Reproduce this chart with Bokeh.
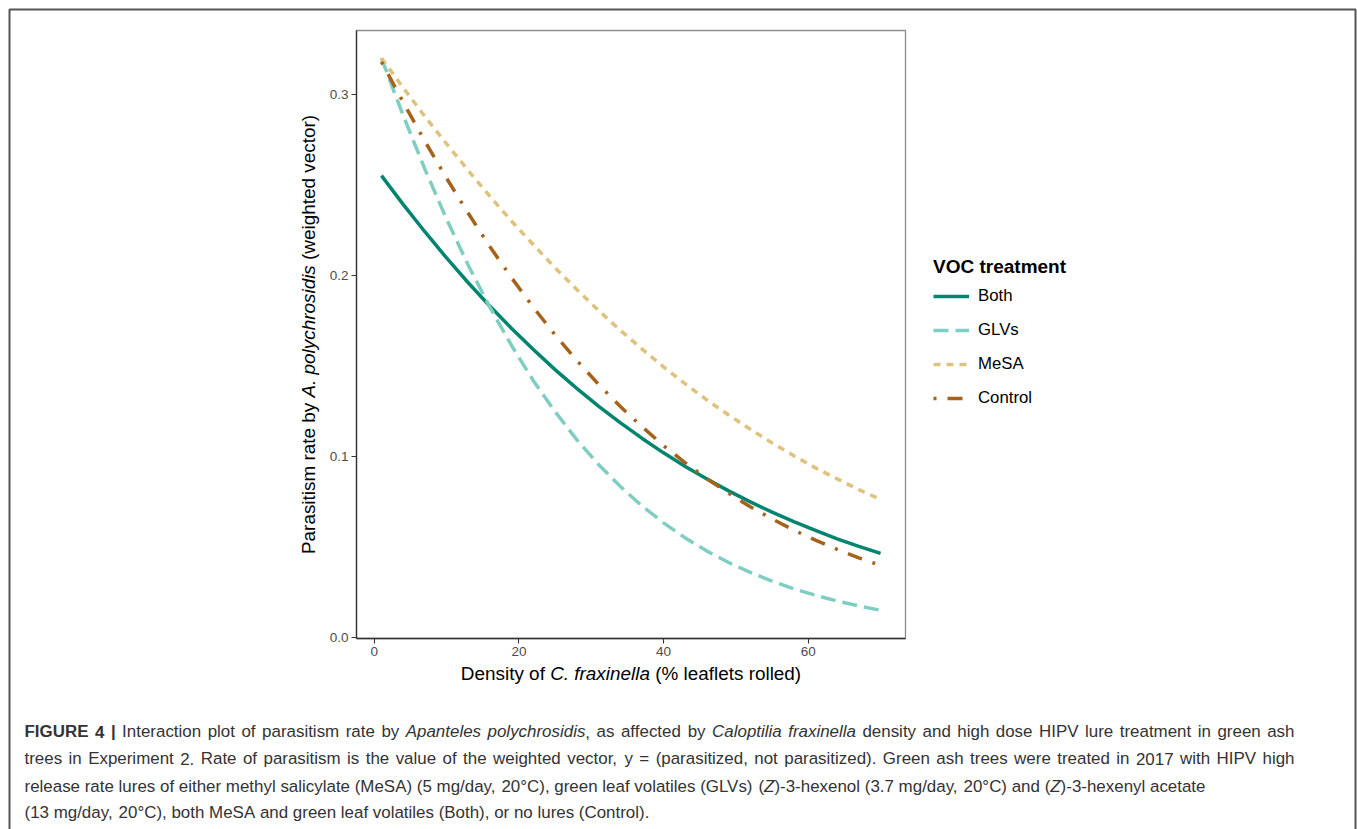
import math
from bokeh.plotting import figure
from bokeh.models import (Range1d, FixedTicker, NumeralTickFormatter, Label,
                          Legend, LegendItem, BoxAnnotation, LinearAxis)
from bokeh.embed import file_html
from bokeh.resources import INLINE

# ---------------- data ----------------
density = [1, 4, 7, 10, 13, 16, 19, 22, 25, 28, 31, 34, 37, 40, 43, 46, 49, 52,
           55, 58, 61, 64, 67, 70]
both = [0.2551, 0.2392, 0.2241, 0.2096, 0.1959, 0.1829, 0.1706, 0.1590, 0.1479,
        0.1375, 0.1277, 0.1186, 0.1100, 0.1019, 0.0944, 0.0874, 0.0809, 0.0748,
        0.0691, 0.0639, 0.0590, 0.0544, 0.0502, 0.0463]
glvs = [0.3200, 0.2884, 0.2587, 0.2311, 0.2056, 0.1823, 0.1611, 0.1418, 0.1247,
        0.1092, 0.0955, 0.0834, 0.0726, 0.0632, 0.0549, 0.0476, 0.0413, 0.0358,
        0.0310, 0.0268, 0.0232, 0.0200, 0.0173, 0.0149]
mesa = [0.3200, 0.3037, 0.2878, 0.2727, 0.2579, 0.2436, 0.2299, 0.2169, 0.2042,
        0.1922, 0.1806, 0.1697, 0.1594, 0.1494, 0.1400, 0.1311, 0.1228, 0.1149,
        0.1074, 0.1003, 0.0936, 0.0875, 0.0816, 0.0761]
control = [0.3180, 0.2957, 0.2741, 0.2537, 0.2343, 0.2158, 0.1986, 0.1823, 0.1671,
           0.1530, 0.1398, 0.1276, 0.1164, 0.1059, 0.0964, 0.0876, 0.0795, 0.0721,
           0.0654, 0.0592, 0.0537, 0.0486, 0.0439, 0.0397]
treatments = ["Both", "GLVs", "MeSA", "Control"]
x_ticks = [0, 20, 40, 60]
y_ticks = [0.0, 0.1, 0.2, 0.3]

# ---------------- styles / layout ----------------
COLORS = {"Both": "#018571", "GLVs": "#80CDC1", "MeSA": "#DFC27D", "Control": "#A6611A"}
DASHES = {"Both": "solid", "GLVs": "15 7", "MeSA": "7 6", "Control": "3 11 15 11"}
FONT = "Liberation Sans"

W, H = 1357, 829
# panel (plot area) in canvas pixels
PL, PR, PT, PB = 356, 905, 30, 638
# panel data limits (ggplot-like 5% expansion)
XLO, XHI = -2.45, 73.45
YLO, YHI = -0.0007, 0.3353

SX = (PR - PL) / (XHI - XLO)
SY = (PB - PT) / (YHI - YLO)
x_start = XLO - PL / SX
x_end = XHI + (W - PR) / SX
y_end = YHI + PT / SY
y_start = YLO - (H - PB) / SY


def px2x(px):
    return x_start + px / SX


def py2y(py):
    return y_end - py / SY


p = figure(width=W, height=H, output_backend="svg", toolbar_location=None,
           x_range=Range1d(x_start, x_end), y_range=Range1d(y_start, y_end),
           x_axis_type=None, y_axis_type=None, min_border=0)
p.title.visible = False
p.xgrid.visible = False
p.ygrid.visible = False
p.background_fill_color = "white"
p.border_fill_color = "white"
p.outline_line_color = None

# panel border
p.add_layout(BoxAnnotation(left=XLO, right=XHI, bottom=YLO, top=YHI,
                           fill_alpha=0, line_color="#8c8c8c", line_alpha=1.0,
                           line_width=1.3, level="underlay"))

xaxis = LinearAxis(fixed_location=YLO, bounds=(XLO, XHI),
                   ticker=FixedTicker(ticks=x_ticks, minor_ticks=[]))
yaxis = LinearAxis(fixed_location=XLO, bounds=(YLO, YHI),
                   ticker=FixedTicker(ticks=y_ticks, minor_ticks=[]),
                   formatter=NumeralTickFormatter(format="0.0"))
for ax in (xaxis, yaxis):
    ax.axis_line_color = "#333333"
    ax.axis_line_width = 1.3
    ax.major_tick_line_color = "#333333"
    ax.major_tick_line_width = 1.1
    ax.major_tick_out = 5
    ax.major_tick_in = 0
    ax.minor_tick_line_color = None
    ax.major_label_text_font = FONT
    ax.major_label_text_font_size = "13.5px"
    ax.major_label_text_color = "#4D4D4D"
    ax.major_label_standoff = 3
p.add_layout(xaxis, "below")
p.add_layout(yaxis, "left")

series = {"Both": both, "GLVs": glvs, "MeSA": mesa, "Control": control}
renderers = {}
for name in treatments:
    renderers[name] = p.line(density, series[name], line_color=COLORS[name],
                             line_width=3.5, line_dash=DASHES[name], line_cap="butt")

legend = Legend(items=[LegendItem(label=n, renderers=[renderers[n]]) for n in treatments],
                location=(933, H - 410), title="VOC treatment",
                title_text_font=FONT, title_text_font_size="19px",
                title_text_font_style="bold", title_text_color="black",
                title_standoff=6, label_text_font=FONT, label_text_font_size="16.8px",
                label_text_color="black", label_standoff=9, glyph_width=36,
                glyph_height=24, label_height=24, spacing=10, padding=0, margin=0,
                border_line_color=None, background_fill_alpha=0)
p.add_layout(legend, "center")

# ---------------- text helpers (Arial / Liberation Sans metrics) ----------------
REG = {" ": 278, "!": 278, "%": 889, "(": 333, ")": 333, ",": 278, "-": 333, ".": 278,
       "/": 278, ":": 278, ";": 278, "=": 584, "|": 260, "°": 400,
       "A": 667, "B": 667, "C": 722, "D": 722, "E": 667, "F": 611, "G": 778, "H": 722,
       "I": 278, "J": 500, "K": 667, "L": 556, "M": 833, "N": 722, "O": 778, "P": 667,
       "Q": 778, "R": 722, "S": 667, "T": 611, "U": 722, "V": 667, "W": 944, "X": 667,
       "Y": 667, "Z": 611,
       "a": 556, "b": 556, "c": 500, "d": 556, "e": 556, "f": 278, "g": 556, "h": 556,
       "i": 222, "j": 222, "k": 500, "l": 222, "m": 833, "n": 556, "o": 556, "p": 556,
       "q": 556, "r": 333, "s": 500, "t": 278, "u": 556, "v": 500, "w": 722, "x": 500,
       "y": 500, "z": 500}
for d in "0123456789":
    REG[d] = 556
BOLD = dict(REG)
BOLD.update({"|": 280, "t": 333, "r": 389, "a": 556, "m": 889, "n": 611, "e": 556,
             "V": 667, "O": 778, "C": 722})


def units(s, style):
    tbl = BOLD if style == "bold" else REG
    return sum(tbl.get(ch, 556) for ch in s)


def pieces_of(segs):
    out = []
    for text, style in segs:
        parts = text.split(" ")
        for i, part in enumerate(parts):
            if i > 0:
                out.append((None, style))
            if part:
                out.append((part, style))
    return out


def natural_width(segs, fs):
    return sum(units(t if t else " ", st) * fs / 1000.0 for t, st in pieces_of(segs))


def draw_line(segs, x0, y0, fs, color, vertical=False, justify_width=None):
    """x0, y0 in canvas pixels (y downward). Vertical text reads bottom-to-top."""
    pcs = pieces_of(segs)
    widths = [units(t if t else " ", st) * fs / 1000.0 for t, st in pcs]
    nat = sum(widths)
    nsp = sum(1 for t, _ in pcs if t is None)
    extra = (justify_width - nat) / nsp if (justify_width and nsp) else 0.0
    pos = 0.0
    for (t, st), w in zip(pcs, widths):
        if t is None:
            pos += w + extra
            continue
        if vertical:
            cx, cy, ang = x0, y0 - pos, math.pi / 2
        else:
            cx, cy, ang = x0 + pos, y0, 0.0
        p.add_layout(Label(x=px2x(cx), y=py2y(cy), text=t,
                           angle=ang, text_align="left", text_baseline="middle",
                           text_font=FONT, text_font_size=f"{fs:.2f}px",
                           text_font_style=st, text_color=color))
        pos += w


# axis titles
AX_FS = 18.9
xlab = [("Density of ", "normal"), ("C. fraxinella", "italic"),
        (" (% leaflets rolled)", "normal")]
ylab = [("Parasitism rate by ", "normal"), ("A. polychrosidis", "italic"),
        (" (weighted vector)", "normal")]
xw = natural_width(xlab, AX_FS)
draw_line(xlab, (PL + PR) / 2 - xw / 2, 673, AX_FS, "black")
yw = natural_width(ylab, AX_FS)
draw_line(ylab, 308, (PT + PB) / 2 + yw / 2, AX_FS, "black", vertical=True)

# caption
caption = [
    [("FIGURE 4 |", "bold"), (" Interaction plot of parasitism rate by ", "normal"),
     ("Apanteles polychrosidis", "italic"), (", as affected by ", "normal"),
     ("Caloptilia fraxinella", "italic"),
     (" density and high dose HIPV lure treatment in green ash", "normal")],
    [("trees in Experiment 2. Rate of parasitism is the value of the weighted vector, "
      "y = (parasitized, not parasitized). Green ash trees were treated in 2017 with HIPV high",
      "normal")],
    [("release rate lures of either methyl salicylate (MeSA) (5 mg/day, 20°C), green leaf "
      "volatiles (GLVs) (", "normal"), ("Z", "italic"),
     (")-3-hexenol (3.7 mg/day, 20°C) and (", "normal"), ("Z", "italic"),
     (")-3-hexenyl acetate", "normal")],
    [("(13 mg/day, 20°C), both MeSA and green leaf volatiles (Both), or no lures (Control).",
      "normal")],
]
CAP_FS = 1181.0 / natural_width(caption[2], 1.0)
cap_ys = [731, 758, 786, 812]
for i, (line, cy) in enumerate(zip(caption, cap_ys)):
    draw_line(line, 24, cy, CAP_FS, "#333333",
              justify_width=1270.0 if i < 2 else None)

# outer frame of the whole figure
p.add_layout(BoxAnnotation(left=px2x(9), right=px2x(1355), top=py2y(9), bottom=py2y(860),
                           fill_alpha=0, line_color="#555555", line_alpha=1.0,
                           line_width=2))

open("out.html", "w").write(file_html(p, INLINE))
